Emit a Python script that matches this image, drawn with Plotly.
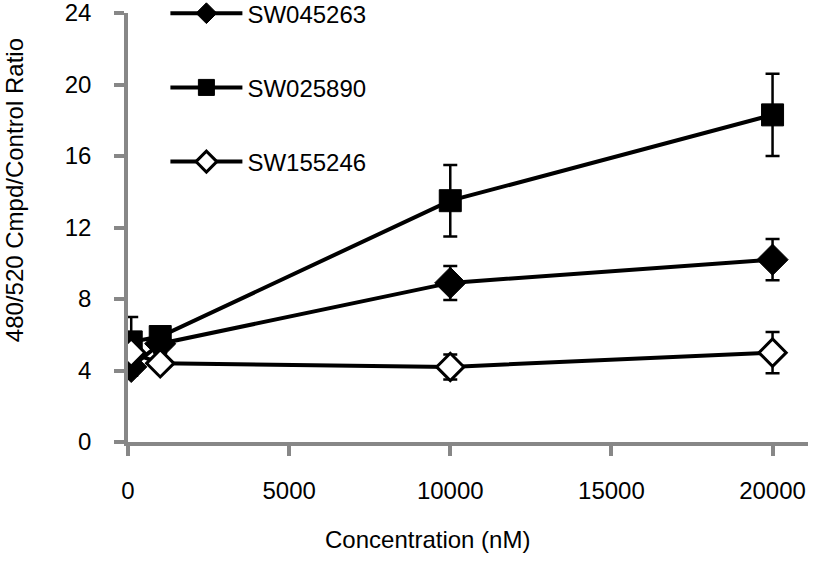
import plotly.graph_objects as go

conc = [100, 1000, 10000, 20000]

names = ["SW045263", "SW025890", "SW155246"]
sw045263 = [4.2, 5.5, 8.9, 10.2]
sw045263_err = [0.5, 0.5, 0.95, 1.15]
sw025890 = [5.6, 5.9, 13.5, 18.3]
sw025890_err = [1.4, 0.5, 2.0, 2.3]
sw155246 = [5.0, 4.4, 4.2, 5.0]
sw155246_err = [0.4, 0.3, 0.7, 1.15]

x_ticks = [0, 5000, 10000, 15000, 20000]
y_ticks = [0, 4, 8, 12, 16, 20, 24]

FONT = "Liberation Sans, Arial, sans-serif"
GRAY = "#878787"

series = [
    (names[0], sw045263, sw045263_err, dict(symbol="diamond", size=24, color="black",
                                             line=dict(color="black", width=1))),
    (names[1], sw025890, sw025890_err, dict(symbol="square", size=22, color="black",
                                             line=dict(color="black", width=1))),
    (names[2], sw155246, sw155246_err, dict(symbol="diamond", size=21, color="white",
                                             line=dict(color="black", width=3))),
]

fig = go.Figure()
for i, (nm, ys, err, mk) in enumerate(series):
    fig.add_trace(go.Scatter(
        x=conc, y=ys, name=nm, mode="lines+markers",
        line=dict(color="black", width=4),
        marker=mk,
        error_y=dict(type="data", array=err, visible=True, color="black",
                     thickness=2.5, width=7),
        legendgroup=nm,
    ))

fig.update_layout(
    width=820, height=564,
    margin=dict(l=128, r=12, t=13, b=122, autoexpand=False),
    paper_bgcolor="white", plot_bgcolor="white",
    font=dict(family=FONT, size=23, color="black"),
    showlegend=True,
    legend=dict(x=0.055, y=1.051, xanchor="left", yanchor="top",
                font=dict(family=FONT, size=24, color="black"),
                tracegroupgap=40, bgcolor="rgba(0,0,0,0)", itemwidth=72),
    xaxis=dict(range=[0, 21100], tickvals=x_ticks, ticktext=[str(v) for v in x_ticks],
               showline=True, linecolor=GRAY, linewidth=3.5,
               ticks="outside", ticklen=10, tickwidth=3.5, tickcolor=GRAY,
               showgrid=False, zeroline=False, ticklabelstandoff=14,
               ticklabeloverflow="allow", tickfont=dict(size=24)),
    yaxis=dict(range=[0, 24], tickvals=y_ticks,
               showline=True, linecolor=GRAY, linewidth=3.5,
               ticks="outside", ticklen=10, tickwidth=3.5, tickcolor=GRAY,
               showgrid=False, zeroline=False, ticklabelstandoff=18,
               ticklabeloverflow="allow", tickfont=dict(size=24)),
    annotations=[
        dict(text="480/520 Cmpd/Control Ratio", xref="paper", yref="paper",
             x=0, y=0.587, xanchor="center", yanchor="middle", xshift=-114,
             textangle=-90, showarrow=False, font=dict(size=24)),
        dict(text="Concentration (nM)", xref="paper", yref="paper",
             x=0.44, y=0, xanchor="center", yanchor="middle", yshift=-97,
             showarrow=False, font=dict(size=24)),
    ],
)

fig.write_html("out.html", config={"displayModeBar": False},
               post_script="document.body.style.margin='0px';")
